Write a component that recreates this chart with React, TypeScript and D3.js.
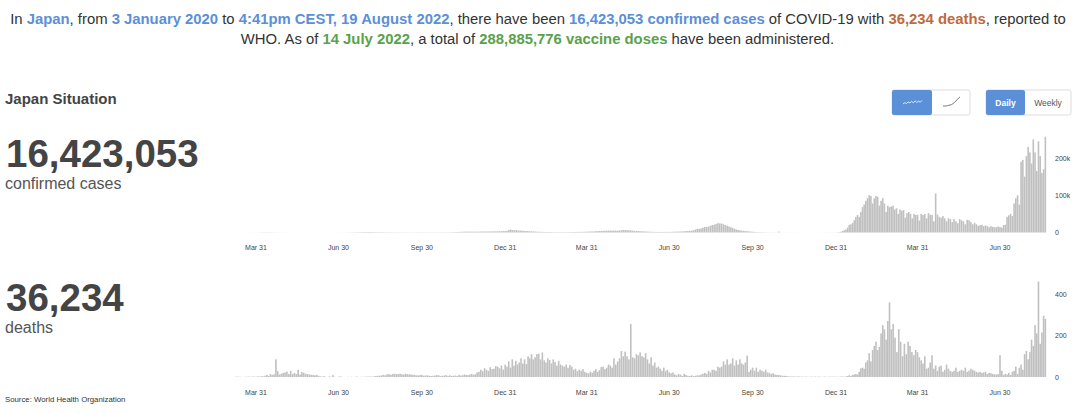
import React from "react";
import * as d3 from "d3";

const firstDay = new Date(2020, 2, 5);
const lastDay = new Date(2022, 7, 19);
const startMonth = new Date(2020, 2, 1);

// Daily new cases in thousands (Mar 2020 to Aug 2022)
const cases2020 = [
  [.03,.03,.05,.05,.04,.06,.05,.08,.1,.1,.15,.2,.2],
  [.25,.3,.4,.5,.55,.6,.55,.5,.45,.4,.4,.3,.25,.2,.2],
  [.2,.15,.12,.1,.08,.06,.05,.04,.03,.03,.03,.03,.03,.04,.04],
  [.04,.04,.05,.05,.05,.05,.06,.06,.07,.06,.06,.08,.09,.1,.1],
  [.13,.2,.25,.3,.35,.4,.5,.6,.7,.8,.9,1,1.2,1.3,1.5],
  [1.4,1.5,1.3,1.2,1.1,1,1.1,1,.9,.8,.9,.8,.7,.7,.6],
  [.6,.6,.6,.5,.5,.5,.5,.5,.5,.5,.5,.5,.5,.5,.6],
  [.5,.5,.6,.5,.6,.5,.6,.6,.6,.6,.7,.6,.7,.7,.8],
  [.9,1,1.2,1.3,1.6,1.8,2,2.2,2.3,2.4,2.3,2.2,2.2,2.3,2.3],
  [2.4,2.5,2.6,2.7,2.8,2.8,2.9,3,3.1,3,3.2,3.3,3.5,3.8,3.9],
];
const cases2021 = [
  [4.5,7,7.8,6.5,6,6.5,5.5,5,5,4.5,4,4,3.5,3.2,3],
  [2.5,2.2,2,1.8,1.7,1.5,1.4,1.3,1.3,1.2,1.1,1.1,1,1],
  [1,1,1,1,1.1,1.2,1.3,1.4,1.5,1.6,1.7,1.7,1.9,2,2.2],
  [2.4,2.6,2.7,3,3.5,3.5,4,4.2,4.5,4.7,4.8,5,5.2,5,5.1],
  [5,4.8,5.5,6,6.8,6.5,6.2,6,5.5,5,4.5,4.2,4,3.5,3.2],
  [2.9,2.6,2.4,2.2,2,1.8,1.7,1.6,1.5,1.4,1.4,1.5,1.6,1.7,1.7],
  [1.8,2,2.2,2.4,2.5,2.8,3,3.3,3.8,4,4.5,5,6,8,10],
  [9.5,11,13,15,15,16,18,20,21,23,25,24.5,24,22,20],
  [18,16,14,12,10,8,7,6,5,4.5,4,3.5,3,2.5,2],
  [1.6,1.2,1,.9,.8,.7,.6,.5,.5,.4,.4,.3,.3,2.5,.3],
  [.2,.2,.2,.2,.2,.2,.15,.15,.15,.1,.1,.1,.1,.1,.1],
  [.1,.1,.1,.1,.1,.1,.1,.15,.15,.2,.2,.2,.25,.3,.4],
];
const cases2022 = [
  [.6,1,2,4,6,8,13,20,22,25,33,42,47,42,55,68,75],
  [85,92,100,98,78,92,98,96,72,85,92,78,55,72,68],
  [70,72,62,65,50,62,58,60,40,52,55,50,38,50,47,48],
  [32,50,47,50,38,52,48,47,30,105,48,42,40,44,38],
  [30,38,36,28,36,30,25,36,33,30,22,34,33,28,22],
  [26,22,18,20,21,17,19,17,14,17,15,14,14,16,15],
  [13,20,21,42,46,50,44,78,92,100,75,190,195,150,205,230],
  [215,185,250,215,165,245,205,160,170,257],
];

// Daily deaths
const deaths2020 = [
  [0,1,2,1,1,0,1,1,2,1,2,2,1],
  [3,2,4,3,6,10,5,14,10,13,85,28,12,16,20],
  [22,26,14,30,14,20,14,35,12,24,20,16,14,12,11],
  [10,8,10,6,3,2,4,1,0,3,1,9,1,0,1],
  [3,1,0,0,1,0,1,0,1,2,0,1,1,1,2],
  [2,2,2,3,5,6,6,8,10,8,13,14,11,15,15],
  [14,14,16,13,12,16,14,12,13,10,11,8,8,9,10],
  [6,7,8,6,5,6,7,9,8,5,6,7,9,5,8],
  [5,6,7,5,10,7,8,12,10,9,12,15,11,13,22],
  [25,35,28,42,35,30,47,38,40,52,50,42,55,36,60],
];
const deaths2021 = [
  [50,75,45,85,55,78,60,70,90,65,85,62,100,90,110,85],
  [95,110,112,85,118,80,70,90,82,65,85,72,55,78],
  [60,55,50,60,45,58,50,35,40,28,35,30,38,25,20],
  [18,25,20,30,38,25,32,48,50,38,45,60,55,45,90],
  [60,75,90,125,100,122,100,85,255,95,90,110,105,118,100],
  [95,115,85,65,95,55,70,45,50,40,30,45,28,35,22],
  [18,22,12,8,15,12,5,15,10,6,5,8,4,6,8],
  [8,12,15,20,15,30,22,35,35,30,50,45,50,75,60],
  [85,60,65,90,55,80,60,85,65,60,70,103,25,35,45],
  [30,45,25,35,30,25,35,22,20,15,18,12,10,10,8],
  [6,6,5,3,3,2,3,2,2,3,1,2,1,2,1],
  [1,2,1,2,1,2,1,1,2,1,1,2,1,2,1],
];
const deaths2022 = [
  [1,1,2,2,1,3,5,8,5,10,12,14,12,25,42,45,40],
  [70,80,115,75,130,150,170,130,145,210,250,230,180,270,360],
  [230,255,190,120,230,170,100,160,110,170,150,120,105,130,120],
  [95,80,65,100,40,45,70,105,40,55,30,50,55,25,35],
  [60,40,30,25,30,45,25,30,35,30,45,25,30,40,35],
  [30,25,22,25,20,22,25,15,20,18,15,13,12,14,105],
  [30,10,15,12,20,10,25,30,50,15,45,60,35,110,125,85],
  [120,180,150,250,210,460,160,215,295,280],
];

const tickDates = [
  new Date(2020, 2, 31), new Date(2020, 5, 30), new Date(2020, 8, 30), new Date(2020, 11, 31),
  new Date(2021, 2, 31), new Date(2021, 5, 30), new Date(2021, 8, 30), new Date(2021, 11, 31),
  new Date(2022, 2, 31), new Date(2022, 5, 30),
];
const caseTicks = [0, 100, 200];
const deathTicks = [0, 200, 400];
const dailyIcon = [0, 1, 0.4, 1.6, 0.8, 2, 1, 2.4, 1.2, 2.2, 1.4, 2.8];
const cumulativeIcon = [0, 0, 1, 2, 5, 9, 13];

const blue = "#5b8fd8";
const brown = "#c06a3c";
const green = "#5aa24a";
const grey = "#444444";
const barColor = "#c0c0c0";
const font = "'Liberation Sans', Arial, sans-serif";

function flatten(months: number[][]) {
  const out: { date: Date; value: number }[] = [];
  months.forEach((vals, m) => {
    const ms = d3.timeMonth.offset(startMonth, m);
    const me = d3.timeMonth.offset(ms, 1);
    const s = ms < firstDay ? firstDay : ms;
    const e = me > lastDay ? d3.timeDay.offset(lastDay, 1) : me;
    const t = d3.scaleLinear().domain([0, vals.length]).range([+s, +e]);
    vals.forEach((v, i) => out.push({ date: new Date(t(i + 0.5)), value: v }));
  });
  return out;
}

const casesData = flatten([...cases2020, ...cases2021, ...cases2022]);
const deathsData = flatten([...deaths2020, ...deaths2021, ...deaths2022]);

const x = d3.scaleTime().domain([tickDates[0], tickDates[9]]).range([256, 1000]);
const yCases = d3.scaleLinear().domain([0, 200]).range([232.5, 158]);
const yDeaths = d3.scaleLinear().domain([0, 400]).range([377, 294]);
const tickFormat = d3.timeFormat("%b %-d");

function Panel({ data, y, ticks, fmt, labelY }: any) {
  return (
    <g>
      {data.map((d: any, i: number) => (
        <rect key={i} x={x(d.date) - 0.8} width={1.6} y={y(d.value)} height={y(0) - y(d.value)} fill={barColor} />
      ))}
      {tickDates.map((d, i) => (
        <text key={i} x={x(d)} y={labelY} fontSize={7} textAnchor="middle" fill="#444">{tickFormat(d)}</text>
      ))}
      {ticks.map((t: number) => (
        <text key={t} x={1055} y={y(t) + 2.5} fontSize={7} fill="#444">{fmt(t)}</text>
      ))}
    </g>
  );
}

export default function App() {
  const iconX = (arr: number[], a: number, b: number) => d3.scaleLinear().domain([0, arr.length - 1]).range([a, b]);
  const iconDaily = d3.line<number>().x((_, i) => iconX(dailyIcon, 903, 922)(i)).y((v) => 104 - v * 1.3);
  const iconCum = d3.line<number>().curve(d3.curveMonotoneX).x((_, i) => iconX(cumulativeIcon, 943, 960)(i)).y((v) => 106 - v * 0.7);
  return (
    <div style={{ position: "absolute", left: 0, top: 0 }}>
      <svg width={1080} height={414} style={{ display: "block", fontFamily: font }}>
        <rect width={1080} height={414} fill="#fff" />
        <text x={538} y={24} fontSize={14.85} textAnchor="middle" fill="#333">
          In <tspan fill={blue} fontWeight="bold">Japan</tspan>, from <tspan fill={blue} fontWeight="bold">3 January 2020</tspan> to <tspan fill={blue} fontWeight="bold">4:41pm CEST, 19 August 2022</tspan>, there have been <tspan fill={blue} fontWeight="bold">16,423,053 confirmed cases</tspan> of COVID-19 with <tspan fill={brown} fontWeight="bold">36,234 deaths</tspan>, reported to
        </text>
        <text x={537.5} y={44} fontSize={14.85} textAnchor="middle" fill="#333">
          WHO. As of <tspan fill={green} fontWeight="bold">14 July 2022</tspan>, a total of <tspan fill={green} fontWeight="bold">288,885,776 vaccine doses</tspan> have been administered.
        </text>
        <text x={5} y={104} fontSize={15} fontWeight="bold" fill={grey}>Japan Situation</text>
        <text x={6} y={167} fontSize={38.5} fontWeight="bold" fill={grey}>16,423,053</text>
        <text x={5} y={189} fontSize={16} fill="#555">confirmed cases</text>
        <text x={6} y={311} fontSize={38.5} fontWeight="bold" fill={grey}>36,234</text>
        <text x={5} y={333} fontSize={16} fill="#555">deaths</text>
        <text x={5} y={402} fontSize={7.8} fill="#333">Source: World Health Organization</text>

        <rect x={892} y={90} width={78} height={25} rx={2} fill="#fff" stroke="#ddd" />
        <rect x={892} y={90} width={40} height={25} rx={2} fill={blue} />
        <path d={iconDaily(dailyIcon) || ""} fill="none" stroke="#fff" strokeWidth={0.8} />
        <path d={iconCum(cumulativeIcon) || ""} fill="none" stroke="#555" strokeWidth={0.8} />
        <rect x={986} y={90} width={85} height={25} rx={2} fill="#fff" stroke="#ddd" />
        <rect x={986} y={90} width={39} height={25} rx={2} fill={blue} />
        <text x={1005.5} y={106} fontSize={8.5} fontWeight="bold" textAnchor="middle" fill="#fff">Daily</text>
        <text x={1048} y={106} fontSize={8.5} textAnchor="middle" fill="#555">Weekly</text>

        <Panel data={casesData} y={yCases} ticks={caseTicks} fmt={(t: number) => (t === 0 ? "0" : `${t}k`)} labelY={250} />
        <Panel data={deathsData} y={yDeaths} ticks={deathTicks} fmt={(t: number) => `${t}`} labelY={395} />
      </svg>
    </div>
  );
}
